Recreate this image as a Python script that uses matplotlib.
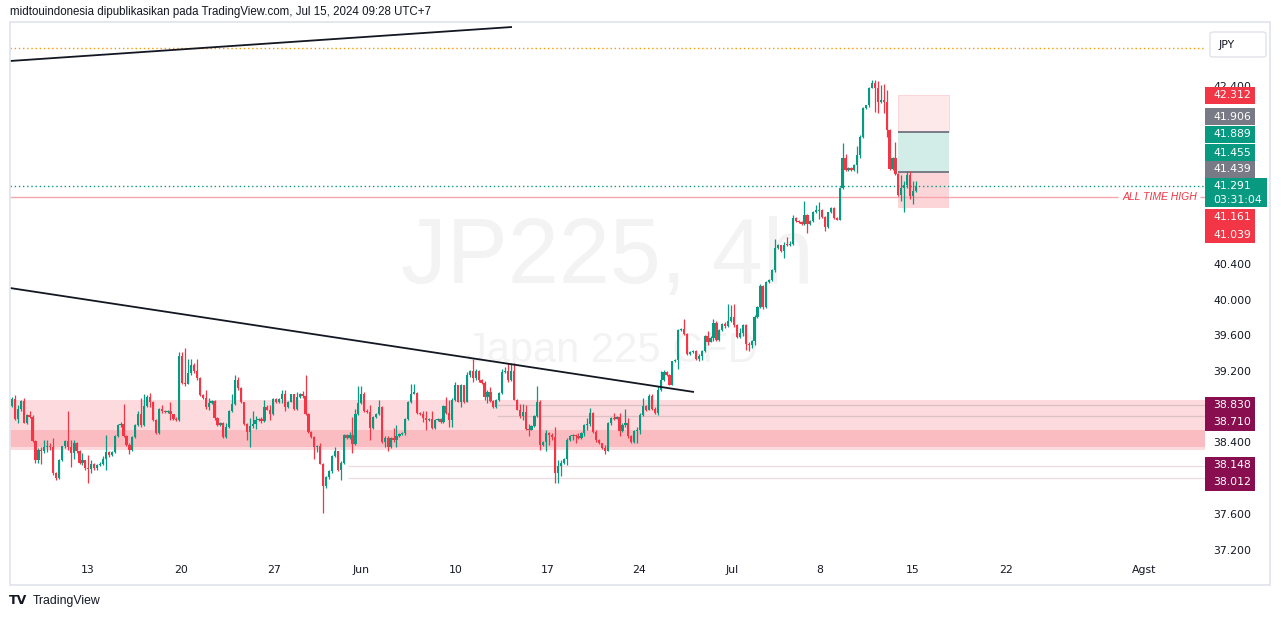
import matplotlib
matplotlib.use('Agg')
import matplotlib.pyplot as plt
from matplotlib.patches import Rectangle, FancyBboxPatch
from matplotlib.transforms import blended_transform_factory
import numpy as np

plt.rcParams['font.family'] = ['Liberation Sans', 'DejaVu Sans']

# ---- data: JP225 CFD, 4h candles (open = previous close) ----
first_open = 38.82
close = [
    # May 9 - May 20
    38.90, 38.67, 38.79, 38.88, 38.63, 38.72, 38.70, 38.43, 38.21, 38.33,
    38.31, 38.36, 38.37, 38.36, 38.07, 38.01, 38.22, 38.37, 38.43, 38.36,
    38.29, 38.41, 38.31, 38.18, 38.21, 38.12, 38.11, 38.17, 38.12, 38.16,
    38.17, 38.23, 38.30, 38.27, 38.30, 38.48, 38.61, 38.62, 38.48, 38.38,
    38.33, 38.47, 38.61, 38.73, 38.61, 38.82, 38.92, 38.87, 38.66, 38.52,
    38.79, 38.76, 38.75, 38.76, 38.73, 38.67, 38.66, 39.38, 39.08, 39.07,
    39.19, 39.28, 39.21, 39.13, 38.94, 38.91, 38.81, 38.85, 38.88, 38.69,
    38.61, 38.63, 38.47, 38.58, 38.76, 38.84,
    # late May - mid June
    39.11, 39.02, 38.86, 38.62, 38.53, 38.60, 38.62, 38.66, 38.67, 38.65,
    38.81, 38.78, 38.73, 38.90, 38.86, 38.90, 38.96, 38.81, 38.87, 38.95,
    38.79, 38.92, 38.96, 38.93, 38.73, 38.53, 38.47, 38.36, 38.37, 38.17,
    37.92, 38.02, 38.09, 38.26, 38.31, 38.10, 38.18, 38.50, 38.46, 38.50,
    38.39, 38.73, 38.85, 38.96, 38.76, 38.75, 38.57, 38.70, 38.73, 38.81,
    38.42, 38.46, 38.36, 38.46, 38.44, 38.48, 38.51, 38.52, 38.67, 38.87,
    38.96, 38.97, 38.74, 38.73, 38.69, 38.66, 38.67, 38.57, 38.66, 38.67,
    38.64, 38.82, 38.74, 38.66, 38.89, 39.05, 38.87, 39.05,
    # mid June - early July
    38.86, 39.17, 39.21, 39.13, 39.21, 39.11, 39.08, 38.92, 38.98, 38.88,
    38.81, 38.89, 38.97, 39.20, 39.21, 39.11, 39.21, 38.89, 38.78, 38.71,
    38.75, 38.56, 38.55, 38.60, 38.71, 38.87, 38.38, 38.42, 38.52, 38.49,
    38.47, 38.07, 38.15, 38.18, 38.23, 38.44, 38.48, 38.50, 38.48, 38.46,
    38.52, 38.61, 38.62, 38.74, 38.53, 38.44, 38.40, 38.35, 38.32, 38.63,
    38.68, 38.67, 38.70, 38.54, 38.61, 38.63, 38.48, 38.42, 38.54, 38.55,
    38.72, 38.82, 38.78, 38.93, 38.79, 38.74, 39.00, 39.11, 39.20, 39.17,
    39.06, 39.32, 39.34, 39.67, 39.68, 39.63, 39.40,
    # July rally
    39.43, 39.44, 39.35, 39.38, 39.44, 39.60, 39.54, 39.58, 39.75, 39.56,
    39.67, 39.74, 39.72, 39.77, 39.82, 39.73, 39.59, 39.64, 39.73, 39.52,
    39.50, 39.55, 39.82, 39.93, 40.17, 39.93, 40.21, 40.23, 40.35, 40.59,
    40.63, 40.56, 40.63, 40.62, 40.64, 40.93, 40.89, 40.88, 40.86, 40.96,
    40.86, 40.89, 41.00, 41.01, 41.02, 40.94, 40.83, 40.99, 41.04, 40.93,
    40.91, 41.26, 41.60, 41.47, 41.49, 41.47, 41.52, 41.63, 41.84, 42.16,
    42.19, 42.39, 42.44, 42.39, 42.23, 42.25, 42.23, 41.91, 41.48, 41.60,
    41.42, 41.18, 41.26, 41.30, 41.41, 41.17, 41.23, 41.291,
]
high = [
    38.92, 38.94, 38.83, 38.89, 38.91, 38.73, 38.76, 38.72, 38.44, 38.35,
    38.36, 38.44, 38.44, 38.40, 38.46, 38.08, 38.23, 38.37, 38.44, 38.76,
    38.44, 38.44, 38.42, 38.33, 38.29, 38.20, 38.27, 38.21, 38.18, 38.17,
    38.19, 38.26, 38.49, 38.32, 38.31, 38.49, 38.62, 38.64, 38.84, 38.49,
    38.40, 38.48, 38.62, 38.76, 38.91, 38.96, 38.94, 38.97, 38.88, 38.67,
    38.80, 38.83, 38.77, 38.78, 38.87, 38.73, 38.70, 39.43, 39.43, 39.47,
    39.35, 39.35, 39.30, 39.35, 39.14, 38.95, 39.00, 38.91, 38.89, 38.89,
    38.70, 38.64, 38.64, 38.63, 38.77, 38.96,
    39.17, 39.15, 39.03, 38.87, 38.63, 38.68, 38.76, 38.71, 38.69, 38.70,
    38.89, 38.83, 38.83, 38.91, 38.91, 38.91, 39.00, 39.00, 38.88, 38.96,
    38.96, 38.98, 38.97, 38.99, 39.17, 38.74, 38.54, 38.48, 38.38, 38.40,
    38.18, 38.03, 38.10, 38.27, 38.36, 38.31, 38.20, 38.51, 38.51, 38.53,
    38.70, 38.79, 39.04, 39.04, 38.98, 38.79, 38.83, 38.71, 38.74, 38.89,
    38.82, 38.48, 38.48, 38.47, 38.57, 38.61, 38.52, 38.53, 38.68, 38.88,
    39.07, 39.07, 38.98, 38.75, 38.76, 38.76, 38.68, 38.76, 38.67, 38.68,
    38.68, 38.83, 38.92, 38.89, 38.91, 39.09, 39.06, 39.07,
    38.95, 39.20, 39.22, 39.35, 39.24, 39.22, 39.12, 39.10, 39.00, 39.03,
    38.89, 38.90, 38.98, 39.24, 39.26, 39.30, 39.30, 39.30, 38.90, 38.84,
    38.84, 38.83, 38.62, 38.61, 38.72, 39.04, 38.89, 38.43, 38.55, 38.53,
    38.52, 38.59, 38.22, 38.22, 38.24, 38.46, 38.49, 38.51, 38.51, 38.52,
    38.53, 38.62, 38.68, 38.80, 38.75, 38.55, 38.45, 38.41, 38.38, 38.64,
    38.70, 38.74, 38.71, 38.74, 38.63, 38.79, 38.68, 38.49, 38.55, 38.58,
    38.74, 38.91, 38.83, 38.95, 38.96, 38.81, 39.04, 39.21, 39.22, 39.21,
    39.18, 39.33, 39.35, 39.68, 39.69, 39.80, 39.64,
    39.44, 39.45, 39.45, 39.40, 39.45, 39.62, 39.66, 39.60, 39.80, 39.77,
    39.68, 39.75, 39.76, 39.96, 39.95, 39.96, 39.74, 39.69, 39.74, 39.74,
    39.54, 39.56, 39.84, 39.94, 40.19, 40.18, 40.22, 40.24, 40.36, 40.69,
    40.64, 40.63, 40.66, 40.71, 40.67, 40.96, 40.94, 40.90, 40.89, 41.12,
    40.97, 40.90, 41.01, 41.07, 41.11, 41.03, 40.95, 41.00, 41.05, 41.05,
    40.94, 41.27, 41.77, 41.65, 41.50, 41.50, 41.53, 41.74, 41.86, 42.17,
    42.20, 42.40, 42.48, 42.48, 42.46, 42.42, 42.43, 42.36, 41.93, 41.61,
    41.78, 41.43, 41.41, 41.34, 41.45, 41.45, 41.34, 41.34,
]
low = [
    38.81, 38.66, 38.63, 38.76, 38.63, 38.62, 38.68, 38.42, 38.18, 38.18,
    38.17, 38.29, 38.30, 38.33, 38.05, 37.99, 38.00, 38.20, 38.35, 38.33,
    38.14, 38.23, 38.29, 38.17, 38.16, 38.10, 37.96, 38.07, 38.10, 38.10,
    38.15, 38.16, 38.10, 38.25, 38.26, 38.29, 38.47, 38.58, 38.47, 38.37,
    38.28, 38.32, 38.46, 38.60, 38.59, 38.60, 38.81, 38.81, 38.65, 38.51,
    38.51, 38.74, 38.74, 38.74, 38.66, 38.66, 38.65, 38.65, 39.07, 39.04,
    39.07, 39.17, 39.19, 39.11, 38.93, 38.90, 38.79, 38.78, 38.84, 38.66,
    38.60, 38.60, 38.46, 38.46, 38.57, 38.75,
    38.83, 39.00, 38.85, 38.61, 38.44, 38.36, 38.57, 38.56, 38.65, 38.63,
    38.64, 38.77, 38.66, 38.72, 38.85, 38.85, 38.85, 38.76, 38.80, 38.86,
    38.78, 38.78, 38.91, 38.91, 38.72, 38.52, 38.46, 38.23, 38.30, 38.17,
    37.62, 37.90, 38.00, 38.07, 38.25, 38.09, 37.99, 38.17, 38.45, 38.45,
    38.29, 38.38, 38.72, 38.84, 38.75, 38.74, 38.44, 38.56, 38.69, 38.72,
    38.41, 38.36, 38.31, 38.35, 38.42, 38.36, 38.47, 38.49, 38.50, 38.66,
    38.85, 38.95, 38.73, 38.72, 38.64, 38.55, 38.65, 38.56, 38.56, 38.65,
    38.63, 38.63, 38.73, 38.58, 38.58, 38.88, 38.86, 38.81,
    38.85, 38.89, 39.14, 39.09, 39.11, 39.09, 39.07, 38.89, 38.85, 38.87,
    38.80, 38.80, 38.88, 38.96, 39.19, 39.09, 39.10, 38.89, 38.77, 38.69,
    38.66, 38.55, 38.48, 38.55, 38.59, 38.70, 38.33, 38.37, 38.31, 38.38,
    38.44, 37.96, 37.96, 38.03, 38.17, 38.16, 38.43, 38.44, 38.40, 38.45,
    38.45, 38.48, 38.55, 38.60, 38.52, 38.42, 38.39, 38.34, 38.28, 38.31,
    38.61, 38.66, 38.67, 38.48, 38.53, 38.59, 38.46, 38.41, 38.41, 38.40,
    38.51, 38.71, 38.76, 38.77, 38.77, 38.73, 38.72, 38.99, 39.10, 39.16,
    39.05, 39.05, 39.31, 39.24, 39.66, 39.62, 39.39,
    39.39, 39.41, 39.34, 39.33, 39.34, 39.43, 39.50, 39.54, 39.55, 39.55,
    39.55, 39.66, 39.70, 39.71, 39.76, 39.71, 39.58, 39.58, 39.61, 39.45,
    39.44, 39.47, 39.50, 39.81, 39.92, 39.91, 39.92, 40.20, 40.22, 40.32,
    40.58, 40.55, 40.48, 40.61, 40.61, 40.62, 40.88, 40.87, 40.85, 40.85,
    40.76, 40.85, 40.88, 40.98, 40.92, 40.93, 40.78, 40.82, 40.98, 40.92,
    40.90, 40.90, 41.25, 41.46, 41.46, 41.46, 41.46, 41.43, 41.60, 41.83,
    42.15, 42.17, 42.38, 42.12, 42.10, 42.22, 42.11, 41.84, 41.47, 41.47,
    41.41, 41.17, 41.12, 41.00, 41.26, 41.14, 41.09, 41.22,
]

date_labels = ['13', '20', '27', 'Jun', '10', '17', '24', 'Jul', '8', '15', '22', 'Agst']
date_pos = [25.9, 57.6, 89.3, 118.9, 151.3, 182.6, 213.6, 245.3, 275.3, 307.0, 338.7, 385.7]

# price-scale ticks left visible by the labels
price_ticks = [37.2, 37.6, 38.4, 39.2, 39.6, 40.0, 40.4, 42.4]

# support zones and levels
zone_outer = (38.357, 38.888)
zone_inner = (38.33, 38.55)
levels_mid = [38.830, 38.710]
levels_low = [38.148, 38.012]
ath = 41.161
last_price = 41.291
orange_level = 42.833
# position tool (take profit / stop)
pos_top, pos_tp, pos_entry, pos_stop = 42.312, 41.897, 41.44, 41.039

# price-scale labels
label_values = ['42.312', '41.906', '41.889', '41.455', '41.439', '41.161', '41.039',
                '38.830', '38.710', '38.148', '38.012']
label_colors = ['#f23645', '#787b86', '#089981', '#089981', '#787b86', '#f23645', '#f23645',
                '#880e4f', '#880e4f', '#880e4f', '#880e4f']
label_y = [95.5, 116.5, 134, 152.5, 169.5, 217.5, 234.5, 405, 422, 465, 482]

UP, DOWN = '#089981', '#f23645'
TXT = '#131722'
NUM = 'DejaVu Sans'

# ---- figure ----
W, H = 1281, 619
fig = plt.figure(figsize=(W / 100, H / 100), dpi=100)
fig.patch.set_facecolor('white')

def fx(px):
    return px / W

def fy(py):
    return 1 - py / H

def P(y):
    # price scale calibration (pixel row -> price)
    return 37.2 + (550.5 - y) / 89.2

S, X0 = 2.935, 12
def idx(px):
    return (px - X0) / S

ax = fig.add_axes([fx(10), fy(556), (1205 - 10) / W, (556 - 22) / H])
ax.set_xlim(idx(10), idx(1205))
ax.set_ylim(P(556), P(22))
ax.set_axis_off()

# watermark
ax.text(fx(607), fy(283), 'JP225, 4h', transform=fig.transFigure, fontsize=66,
        color='#f3f3f4', ha='center', va='baseline', zorder=0)
ax.text(fx(612), fy(362), 'Japan 225 CFD', transform=fig.transFigure, fontsize=30,
        color='#f3f3f4', ha='center', va='baseline', zorder=0)

xl = ax.get_xlim()
# zones
ax.axhspan(zone_outer[0], zone_outer[1], color='#f23645', alpha=0.18, lw=0, zorder=1)
ax.axhspan(zone_inner[0], zone_inner[1], color='#f23645', alpha=0.18, lw=0, zorder=1)
ax.hlines(levels_mid, idx(497), xl[1], color='#dcc0c6', lw=0.9, zorder=1.2)
ax.hlines(levels_low, idx(348), xl[1], color='#eddde2', lw=1.0, zorder=1.2)

# position tool
px0, px1 = idx(898), idx(949)
ax.add_patch(Rectangle((px0, pos_tp), px1 - px0, pos_top - pos_tp, facecolor='#fde8ea',
                       edgecolor='#fbd0d5', lw=0.6, zorder=1))
ax.add_patch(Rectangle((px0, pos_entry), px1 - px0, pos_tp - pos_entry, facecolor='#d2ede8',
                       lw=0, zorder=1))
ax.add_patch(Rectangle((px0, pos_stop), px1 - px0, pos_entry - pos_stop, facecolor='#fcd5d9',
                       lw=0, zorder=1))
ax.hlines([pos_tp, pos_entry], px0, px1, color='#787b86', lw=1.4, zorder=1.5)

# horizontal lines
ax.axhline(orange_level, color='#ff9800', lw=1.0, ls=(0, (1, 2)), zorder=1.5)
ax.axhline(last_price, color=UP, lw=1.0, ls=(0, (1, 2)), zorder=1.5)
ax.hlines(ath, xl[0], idx(1118), color='#f7a6ad', lw=1.0, zorder=1.5)
ax.hlines(ath, idx(1200), xl[1], color='#f7a6ad', lw=1.0, zorder=1.5)
ax.text(idx(1197), ath, 'ALL TIME HIGH', color=DOWN, fontsize=7.5, style='italic',
        ha='right', va='center', zorder=2)

# trend lines
ax.plot([idx(10), idx(512)], [P(61), P(27)], color='#131722', lw=1.3, zorder=4,
        solid_capstyle='butt')
ax.plot([idx(10), idx(694)], [P(288), P(392)], color='#131722', lw=1.3, zorder=4,
        solid_capstyle='butt')

# candles
c = np.array(close)
o = np.array([first_open] + close[:-1])
h = np.maximum.reduce([np.array(high), o, c])
l = np.minimum.reduce([np.array(low), o, c])
x = np.arange(len(c))
cols = np.where(c >= o, UP, DOWN)
ax.vlines(x, l, h, colors=cols, lw=0.9, zorder=2)
body = np.maximum(np.abs(c - o), 0.012)
ax.bar(x, body, bottom=np.minimum(o, c), width=0.76, color=cols, lw=0, zorder=3)

# ---- price scale ----
ty = blended_transform_factory(fig.transFigure, ax.transData)
for p in price_ticks:
    fig.text(fx(1213), p, f'{p:.3f}', transform=ty, fontsize=7.8, color=TXT,
             va='center', ha='left', zorder=2, family=NUM)

def price_box(text, cy, color, x1=1255, hgt=17):
    fig.add_artist(Rectangle((fx(1205), fy(cy + hgt / 2)), (x1 - 1205) / W, hgt / H,
                             transform=fig.transFigure, facecolor=color, lw=0, zorder=5))
    fig.text(fx(1213), fy(cy), text, fontsize=7.8, color='white', va='center',
             ha='left', zorder=6, family=NUM)

for t, cy, col in zip(label_values, label_y, label_colors):
    price_box(t, cy, col)

# current price + countdown
fig.add_artist(Rectangle((fx(1205), fy(207)), (1267 - 1205) / W, 29 / H,
                         transform=fig.transFigure, facecolor=UP, lw=0, zorder=5))
fig.text(fx(1213), fy(186), f'{last_price:.3f}', fontsize=7.8, color='white',
         va='center', ha='left', zorder=6, family=NUM)
fig.text(fx(1213), fy(200), '03:31:04', fontsize=7.8, color='white',
         va='center', ha='left', zorder=6, family=NUM)

# currency box
fig.add_artist(FancyBboxPatch((fx(1210), fy(57)), 56 / W, 25 / H,
                              boxstyle='round,pad=0,rounding_size=0.003',
                              transform=fig.transFigure, facecolor='white',
                              edgecolor='#e0e3eb', lw=1, zorder=5))
fig.text(fx(1227), fy(44.5), 'JPY', fontsize=7.8, color=TXT, ha='center', va='center',
         zorder=6, family=NUM)

# ---- time scale ----
tx = blended_transform_factory(ax.transData, fig.transFigure)
for lab, pos in zip(date_labels, date_pos):
    fig.text(pos, fy(570), lab, transform=tx, fontsize=7.8, color=TXT,
             ha='center', va='center', zorder=2, family=NUM)

# frame
fig.add_artist(Rectangle((fx(9.5), fy(585)), (1270 - 9.5) / W, (585 - 22) / H,
                         transform=fig.transFigure, facecolor='none',
                         edgecolor='#e0e3eb', lw=1.2, zorder=7))

# header and footer
fig.text(fx(10), fy(12), 'midtouindonesia dipublikasikan pada TradingView.com, '
         'Jul 15, 2024 09:28 UTC+7', fontsize=8.3, color=TXT, ha='left', va='center')
fig.text(fx(9), fy(601), 'TV', fontsize=9, fontweight='bold', color=TXT,
         ha='left', va='center', family='DejaVu Sans')
fig.text(fx(33), fy(601), 'TradingView', fontsize=8.8, color=TXT, ha='left', va='center')

fig.savefig('out.png', dpi=100)
